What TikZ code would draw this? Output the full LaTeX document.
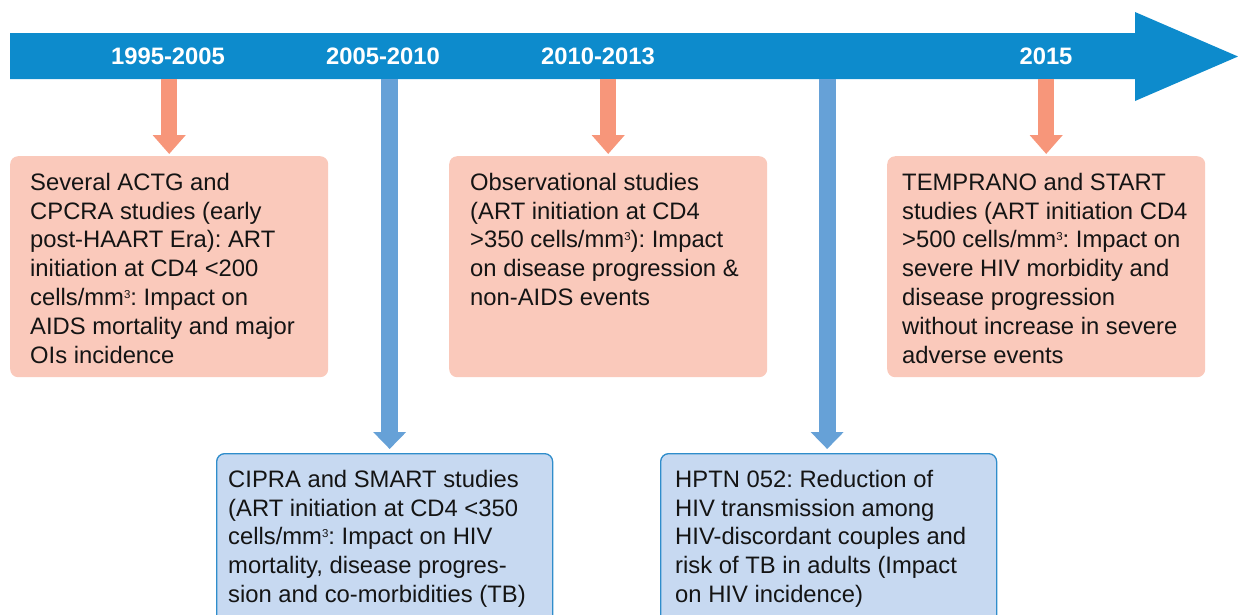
\documentclass[tikz,border=0pt]{standalone}
\usepackage{fontspec}
\setmainfont{Liberation Sans}
\usetikzlibrary{arrows.meta}
\frenchspacing
\definecolor{barblue}{HTML}{0D8BCC}
\definecolor{pinkarrow}{HTML}{F7967A}
\definecolor{pinkbox}{HTML}{FAC9BB}
\definecolor{bluearrow}{HTML}{66A1D7}
\definecolor{bluebox}{HTML}{C7D9F1}
\definecolor{blueedge}{HTML}{2F8DCB}
\definecolor{ink}{HTML}{141414}
\newcommand\supthree{\raisebox{7.5pt}{\fontsize{11.5}{11.5}\selectfont 3}}
\tikzset{
  yearlabel/.style={text=white, font=\fontsize{23.8}{28.8}\selectfont\bfseries, anchor=base, inner sep=0pt},
  pinkbox/.style={fill=pinkbox, draw=none, rounded corners=8pt, anchor=north west, minimum width=318pt, minimum height=221pt, inner sep=0pt},
  bluebox/.style={fill=bluebox, draw=blueedge, line width=1.3pt, rounded corners=8pt, anchor=north west, minimum width=336pt, minimum height=200pt, inner sep=0pt},
  boxtext/.style={text=ink, font=\fontsize{23.8}{28.8}\selectfont\frenchspacing, align=left, anchor=north west, inner sep=0pt},
  pinkarr/.style={draw=pinkarrow, line width=16pt, -{Triangle[width=32pt,length=19pt]}, shorten >=2pt},
  bluearr/.style={draw=bluearrow, line width=17pt, -{Triangle[width=32pt,length=17pt]}, shorten >=4pt},
}
\begin{document}
\begin{tikzpicture}[x=1pt,y=-1pt]
\useasboundingbox (0,0) rectangle (1238,614);
\clip (0,0) rectangle (1238,614);
% timeline
\fill[barblue] (10,33) -- (1135,33) -- (1135,12) -- (1238,56.5) -- (1135,101) -- (1135,79) -- (10,79) -- cycle;
\coordinate (barbot) at (0,79);
\node[yearlabel] (y1) at (168,64) {1995-2005};
\node[yearlabel] (y2) at (383,64) {2005-2010};
\node[yearlabel] (y3) at (598,64) {2010-2013};
\node[yearlabel] (y4) at (1046,64) {2015};
% boxes
\node[pinkbox] (p1) at (10,156) {};
\node[pinkbox] (p2) at (449,156) {};
\node[pinkbox] (p3) at (887,156) {};
\node[bluebox] (b1) at (216,453) {};
\node[bluebox] (b2) at (660,453) {};
% arrows
\draw[pinkarr] (p1.north |- barbot) -- (p1.north);
\draw[pinkarr] (p2.north |- barbot) -- (p2.north);
\draw[pinkarr] (p3.north |- barbot) -- (p3.north);
\draw[bluearr] ([xshift=5pt]b1.north |- barbot) -- ([xshift=5pt]b1.north);
\draw[bluearr] ([xshift=-1.5pt]b2.north |- barbot) -- ([xshift=-1.5pt]b2.north);
% texts
\node[boxtext] (t1) at (30,170) {\strut Several ACTG and\\CPCRA studies (early\\post-HAART Era): ART\\initiation at CD4 <200\\cells/mm\supthree: Impact on\\AIDS mortality and major\\OIs incidence};
\node[boxtext] (t2) at (470,170) {\strut Observational studies\\(ART initiation at CD4\\>350 cells/mm\supthree): Impact\\on disease progression \&\\non-AIDS events};
\node[boxtext] (t3) at (902,170) {\strut TEMPRANO and START\\studies (ART initiation CD4\\>500 cells/mm\supthree: Impact on\\severe HIV morbidity and\\disease progression\\without increase in severe\\adverse events};
\node[boxtext] (t4) at (228,467) {\strut CIPRA and SMART studies\\(ART initiation at CD4 <350\\cells/mm\supthree: Impact on HIV\\mortality, disease progres-\\sion and co-morbidities (TB)};
\node[boxtext] (t5) at (675,467) {\strut HPTN 052: Reduction of\\HIV transmission among\\HIV-discordant couples and\\risk of TB in adults (Impact\\on HIV incidence)};
\end{tikzpicture}
\end{document}
